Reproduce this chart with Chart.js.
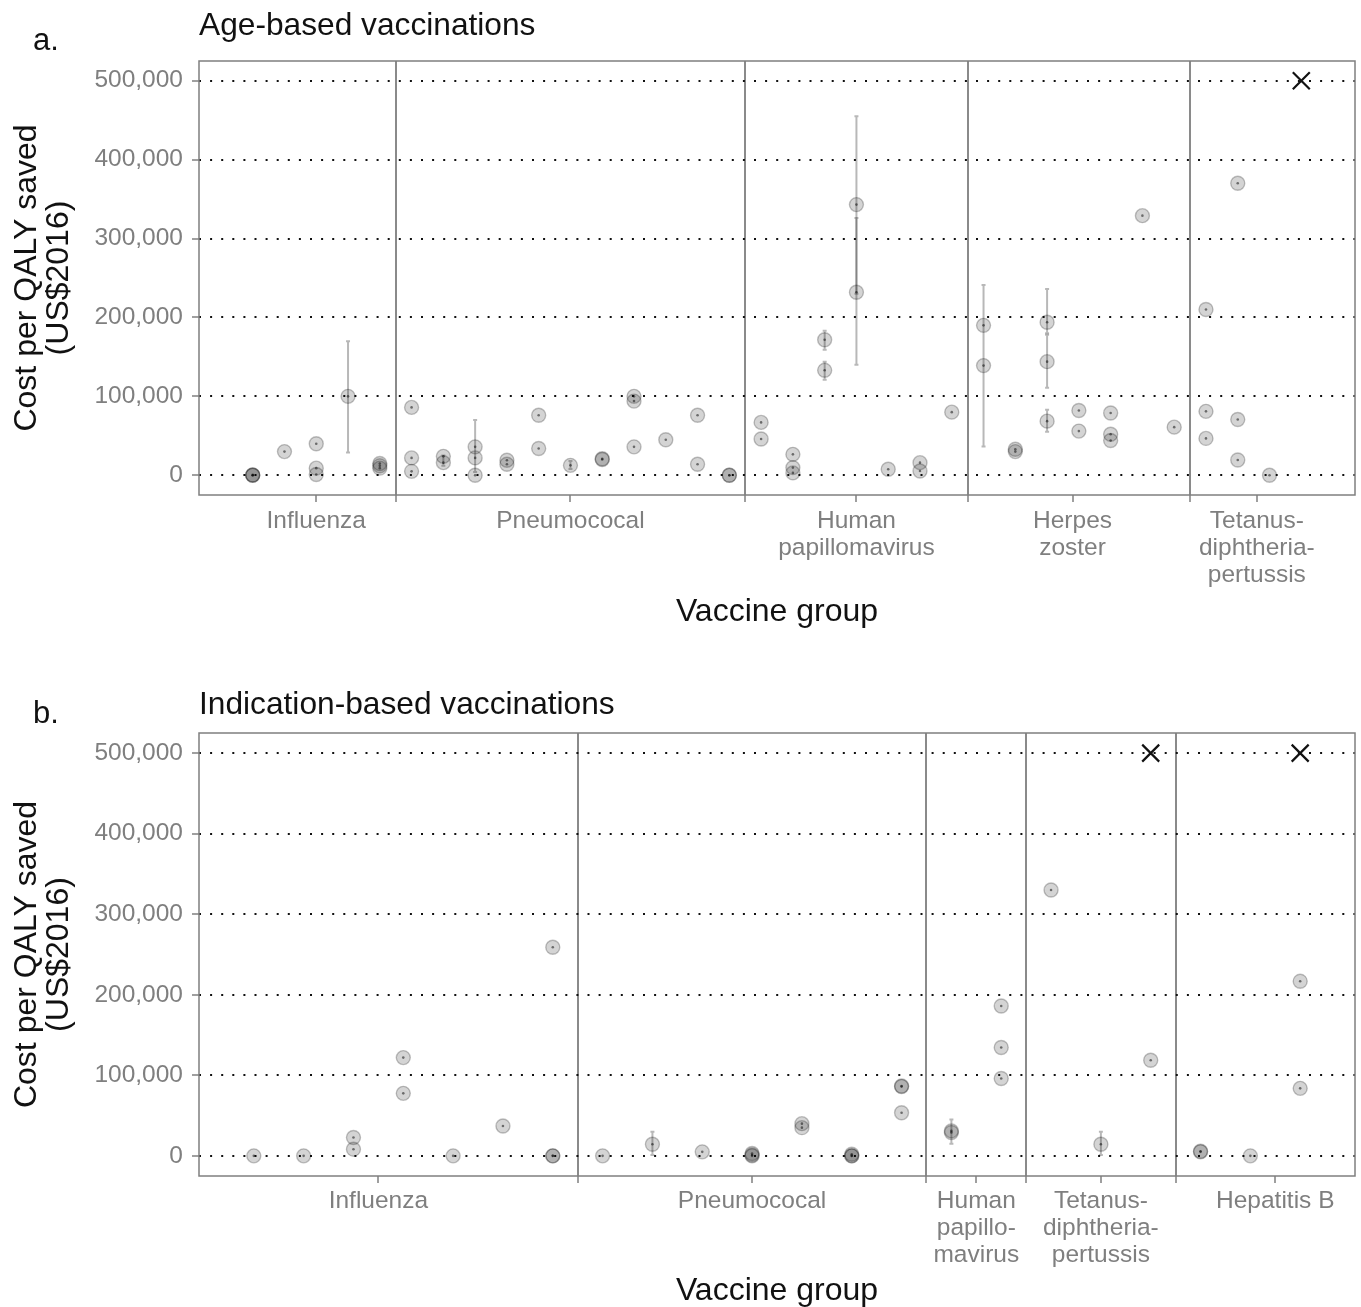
<!DOCTYPE html>
<html>
<head>
<meta charset="utf-8">
<script src="https://cdn.jsdelivr.net/npm/chart.js@4.4.1/dist/chart.umd.min.js"></script>
<style>
  html, body { margin: 0; padding: 0; background: #fff; }
  body { width: 1361px; height: 1307px; position: relative; overflow: hidden; }
  canvas { position: absolute; left: 0; }
  #chartA { top: 0; }
  #chartB { top: 650px; }
</style>
</head>
<body>
<canvas id="chartA" width="1361" height="650"></canvas>
<canvas id="chartB" width="1361" height="657"></canvas>
<script>
// y axis (same for both panels)
const costTicks = [0, 100000, 200000, 300000, 400000, 500000];

// a. age-based vaccinations
const ageGroupLabels = [['Influenza'], ['Pneumococal'], ['Human', 'papillomavirus'], ['Herpes', 'zoster'], ['Tetanus-', 'diphtheria-', 'pertussis']];
const ageLabelAt = [3, 11, 20, 26.8, 32.6];
const ageDividers = [5.5, 16.5, 23.5, 30.5];
const ageX = [1, 1, 1, 2, 3, 3, 3, 4, 5, 5, 5,
    6, 6, 6, 7, 7, 8, 8, 8, 9, 9, 10, 10, 11, 12, 12, 13, 13, 13, 14, 15, 15, 16, 16,
    17, 17, 18, 18, 18, 19, 19, 20, 20, 21, 22, 22, 23,
    24, 24, 25, 25, 26, 26, 26, 27, 27, 28, 28, 28, 29, 30,
    31, 31, 31, 32, 32, 32, 33];
const ageCost = [0, 0, 500, 30000, 40000, 9000, 1000, 100000, 15000, 12000, 9000,
    86000, 22000, 5000, 24000, 16000, 36000, 22000, 0, 19000, 14000, 76000, 34000, 12600, 21000, 20000, 100000, 94000, 36000, 45000, 76000, 14000, 0, 0,
    67000, 46000, 26500, 9700, 3000, 171700, 133000, 343000, 232000, 7600, 16000, 5400, 80000,
    190000, 139000, 33000, 30000, 194000, 144000, 68600, 82000, 56000, 79000, 52000, 44000, 329000, 61000,
    210000, 81000, 46700, 370000, 70700, 19300, 0];
const ageErrX = [4, 7, 8, 11, 19, 19, 20, 20, 24, 26, 26, 26];
const ageErrLow = [29000, 12000, 4000, 8000, 159000, 121000, 140000, 230000, 36600, 180000, 111000, 55000];
const ageErrHigh = [170000, 25000, 70000, 18000, 183000, 144000, 455000, 326000, 241000, 236000, 178000, 83000];
const ageOffX = [34];
const ageOffCost = [500000];

// b. indication-based vaccinations
const indGroupLabels = [['Influenza'], ['Pneumococal'], ['Human', 'papillo-', 'mavirus'], ['Tetanus-', 'diphtheria-', 'pertussis'], ['Hepatitis B']];
const indLabelAt = [3.5, 11, 15.5, 18, 21.5];
const indDividers = [7.5, 14.5, 16.5, 19.5];
const indX = [1, 2, 3, 3, 4, 4, 5, 6, 7, 7, 7,
    8, 9, 10, 11, 11, 11, 12, 12, 13, 13, 13, 14, 14, 14,
    15, 15, 16, 16, 16,
    17, 18, 19,
    20, 20, 21, 22, 22];
const indCost = [0, 0, 22800, 8300, 122000, 77600, 0, 37000, 259000, 0, 0,
    0, 14500, 5000, 3000, 1000, 0, 40000, 35000, 0, 0, 2000, 86800, 86000, 53500,
    31000, 29000, 186000, 134500, 96000,
    330000, 14500, 118700,
    5800, 5000, 0, 216700, 83800];
const indErrX = [9, 15, 18];
const indErrLow = [1000, 15000, 1000];
const indErrHigh = [30000, 45000, 30000];
const indOffX = [19, 22];
const indOffCost = [500000, 500000];

const FONT = "'Liberation Sans', Arial, Helvetica, sans-serif";
const GREY = '#7f7f7f';
Chart.defaults.font.family = FONT;

const errorBars = {
    id: 'errorBars',
    beforeDatasetsDraw(chart, args, opts) {
        const { ctx, scales: { x, y } } = chart;
        ctx.save();
        ctx.strokeStyle = 'rgba(0,0,0,0.28)';
        ctx.lineWidth = 2;
        opts.x.forEach((v, i) => {
            const px = x.getPixelForValue(v);
            const lo = y.getPixelForValue(opts.low[i]);
            const hi = y.getPixelForValue(opts.high[i]);
            ctx.beginPath();
            ctx.moveTo(px, lo); ctx.lineTo(px, hi);
            ctx.moveTo(px - 2, lo); ctx.lineTo(px + 2, lo);
            ctx.moveTo(px - 2, hi); ctx.lineTo(px + 2, hi);
            ctx.stroke();
        });
        ctx.restore();
    }
};

const panelFrame = {
    id: 'panelFrame',
    afterDraw(chart, args, opts) {
        const { ctx, chartArea: a } = chart;
        ctx.save();
        ctx.strokeStyle = GREY;
        ctx.lineWidth = 1.5;
        ctx.strokeRect(a.left, a.top, a.right - a.left, a.bottom - a.top);
        ctx.fillStyle = '#111';
        ctx.textBaseline = 'alphabetic';
        ctx.textAlign = 'left';
        ctx.font = '31px ' + FONT;
        ctx.fillText(opts.letter, 33, opts.letterBase);
        ctx.font = '31.7px ' + FONT;
        ctx.fillText(opts.title, a.left, opts.titleBase);
        ctx.restore();
    }
};

function drawPanel(id, p) {
    const points = p.x.map((x, i) => ({ x, y: p.cost[i] }));
    const off = p.offX.map((x, i) => ({ x, y: p.offCost[i] }));
    const xTicks = p.labelAt.concat(p.dividers).sort((a, b) => a - b);

    return new Chart(document.getElementById(id), {
        type: 'scatter',
        data: {
            datasets: [
                { data: points, pointRadius: 7, backgroundColor: 'rgba(0,0,0,0.17)', borderColor: 'rgba(0,0,0,0.24)', borderWidth: 1.4 },
                { data: points, pointRadius: 1.3, backgroundColor: 'rgba(0,0,0,0.5)', borderWidth: 0 },
                { data: off, pointStyle: 'crossRot', pointRadius: 12, borderColor: '#111', borderWidth: 2.2 }
            ]
        },
        options: {
            responsive: false,
            animation: false,
            events: [],
            layout: { autoPadding: false, padding: { top: p.padTop, right: 6, left: 0, bottom: 0 } },
            plugins: {
                legend: { display: false },
                tooltip: { enabled: false },
                errorBars: { x: p.errX, low: p.errLow, high: p.errHigh },
                panelFrame: { letter: p.letter, title: p.title, letterBase: p.letterBase, titleBase: p.titleBase }
            },
            scales: {
                x: {
                    type: 'linear',
                    min: 1 - p.expand,
                    max: p.nCols + p.expand,
                    afterBuildTicks: s => { s.ticks = xTicks.map(v => ({ value: v })); },
                    afterFit: s => {
                        s.height = p.xAxisHeight;
                        s.paddingLeft = 0;
                        s.paddingRight = 0;
                    },
                    grid: {
                        color: c => (c.tick && p.dividers.includes(c.tick.value)) ? '#8a8a8a' : 'rgba(0,0,0,0)',
                        lineWidth: 2,
                        tickLength: 7,
                        tickColor: GREY,
                        tickWidth: 1.5
                    },
                    border: { display: false },
                    ticks: {
                        autoSkip: false,
                        maxRotation: 0,
                        padding: p.tickPad,
                        color: GREY,
                        font: { size: 24.5, lineHeight: 1.1 },
                        callback: v => {
                            const i = p.labelAt.indexOf(v);
                            return i >= 0 ? p.groupLabels[i] : '';
                        }
                    },
                    title: {
                        display: true,
                        text: 'Vaccine group',
                        color: '#111',
                        font: { size: 32, lineHeight: 1 },
                        padding: { top: 0, bottom: p.xTitlePad }
                    }
                },
                y: {
                    min: -25000,
                    max: 525000,
                    afterBuildTicks: s => { s.ticks = costTicks.map(v => ({ value: v })); },
                    afterFit: s => {
                        s.width = 199;
                        s.paddingTop = 0;
                        s.paddingBottom = 0;
                    },
                    grid: { color: '#111', lineWidth: 2, tickLength: 7, tickColor: GREY, tickWidth: 1.5, tickBorderDash: [] },
                    border: { display: false, dash: [2, 9.1] },
                    ticks: { padding: 9, color: GREY, font: { size: 24.5 }, callback: v => v.toLocaleString('en-US') },
                    title: {
                        display: true,
                        text: ['Cost per QALY saved', '(US$2016)'],
                        color: '#111',
                        font: { size: 32, lineHeight: 1 },
                        padding: { top: 11, bottom: 0 }
                    }
                }
            }
        },
        plugins: [errorBars, panelFrame]
    });
}

drawPanel('chartA', {
    letter: 'a.', title: 'Age-based vaccinations', letterBase: 50, titleBase: 35,
    padTop: 61, xAxisHeight: 155, tickPad: 6, xTitlePad: 22, nCols: 34, expand: 1.69,
    groupLabels: ageGroupLabels, labelAt: ageLabelAt, dividers: ageDividers,
    x: ageX, cost: ageCost, errX: ageErrX, errLow: ageErrLow, errHigh: ageErrHigh,
    offX: ageOffX, offCost: ageOffCost
});

drawPanel('chartB', {
    letter: 'b.', title: 'Indication-based vaccinations', letterBase: 73, titleBase: 64,
    padTop: 83, xAxisHeight: 131, tickPad: 5, xTitlePad: 0, nCols: 22, expand: 1.1,
    groupLabels: indGroupLabels, labelAt: indLabelAt, dividers: indDividers,
    x: indX, cost: indCost, errX: indErrX, errLow: indErrLow, errHigh: indErrHigh,
    offX: indOffX, offCost: indOffCost
});
</script>
</body>
</html>
